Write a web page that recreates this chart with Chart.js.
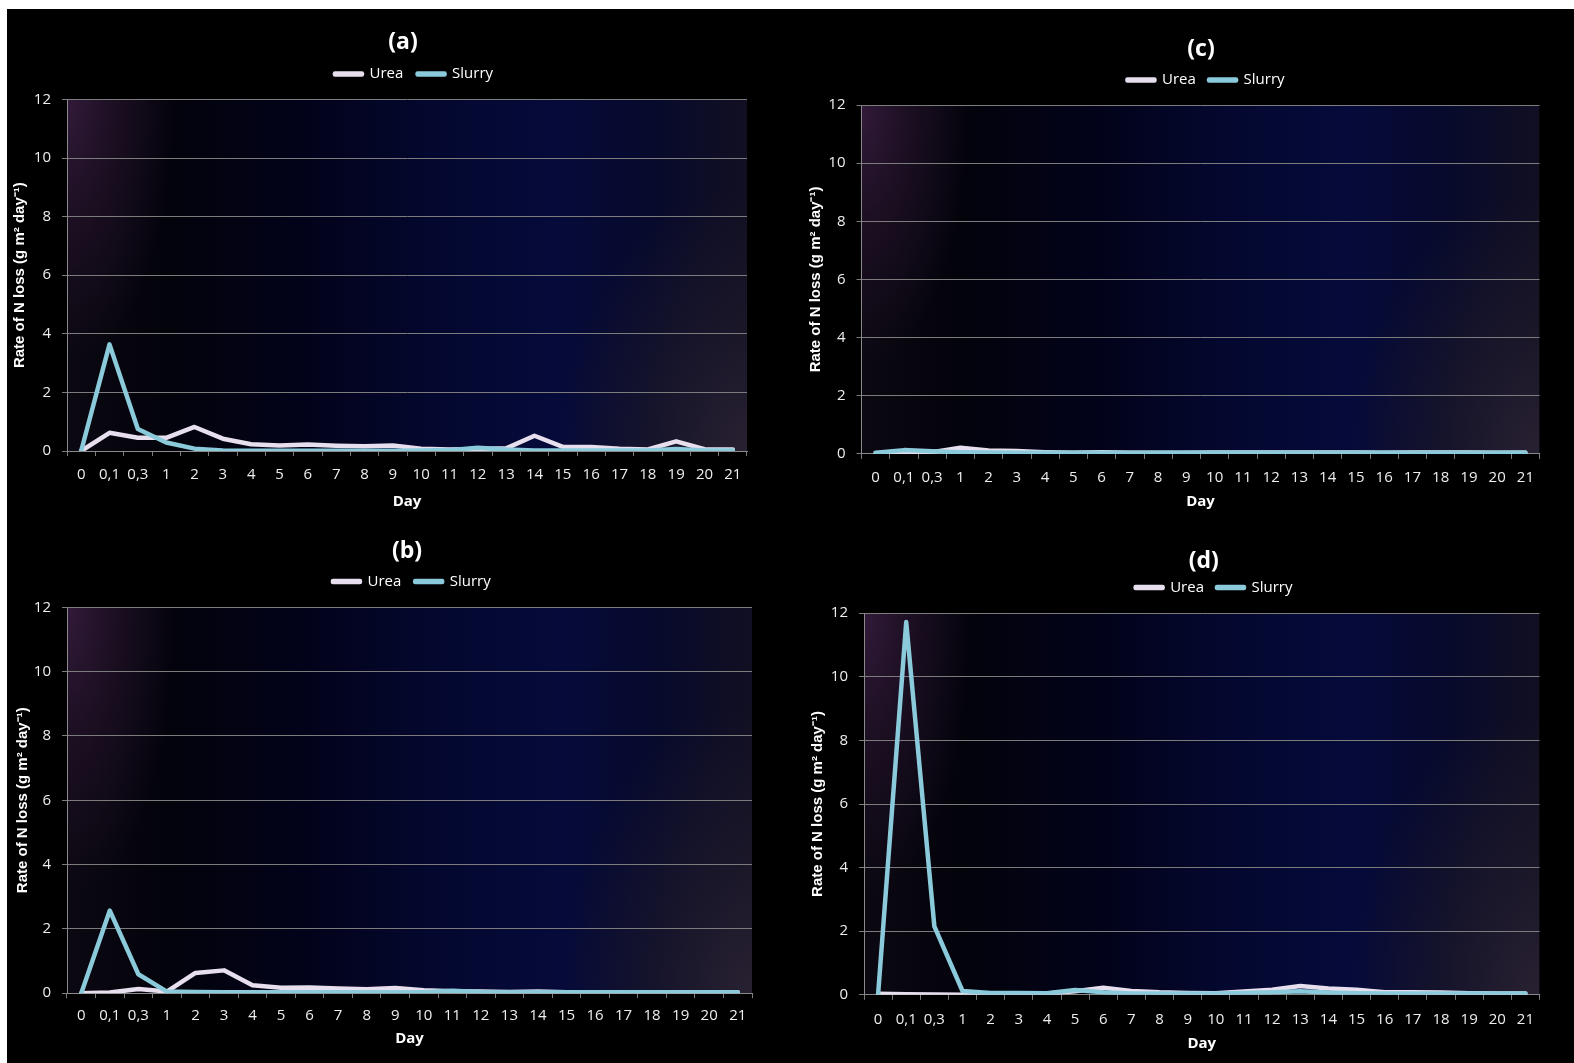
<!DOCTYPE html>
<html><head><meta charset="utf-8">
<script src="https://cdn.jsdelivr.net/npm/chart.js@4.4.1/dist/chart.umd.min.js"></script>
<style>
html,body{margin:0;padding:0;background:#fff;}
body{width:1574px;height:1063px;position:relative;overflow:hidden;}
#bg{position:absolute;left:7px;top:9px;right:0;bottom:0;background:#000;}
.panel{position:absolute;}
.panel canvas{display:block;}
</style></head><body>
<div id="bg"></div>
<div class="panel" style="left:5px;top:9px;width:785px;height:511px"><canvas id="ca"></canvas></div>
<div class="panel" style="left:5px;top:520px;width:785px;height:543px"><canvas id="cb"></canvas></div>
<div class="panel" style="left:790px;top:9px;width:784px;height:511px"><canvas id="cc"></canvas></div>
<div class="panel" style="left:790px;top:520px;width:784px;height:543px"><canvas id="cd"></canvas></div>
<script>
// ---- data ----
const categories = ['0','0,1','0,3','1','2','3','4','5','6','7','8','9','10','11','12','13','14','15','16','17','18','19','20','21'];
const yTicks = [0, 2, 4, 6, 8, 10, 12];

const ureaA   = [0, 0.62, 0.45, 0.45, 0.82, 0.42, 0.23, 0.19, 0.22, 0.18, 0.16, 0.19, 0.08, 0.05, 0.07, 0.09, 0.52, 0.14, 0.14, 0.08, 0.05, 0.33, 0.06, 0.05];
const slurryA = [0, 3.64, 0.75, 0.29, 0.08, 0.02, 0.01, 0.01, 0.01, 0.01, 0.01, 0.01, 0.02, 0.03, 0.11, 0.05, 0.02, 0.02, 0.02, 0.02, 0.02, 0.07, 0.02, 0.02];

const ureaB   = [0, 0.02, 0.13, 0.05, 0.63, 0.71, 0.25, 0.17, 0.18, 0.15, 0.12, 0.16, 0.09, 0.06, 0.05, 0.04, 0.05, 0.03, 0.03, 0.03, 0.03, 0.03, 0.03, 0.03];
const slurryB = [0, 2.57, 0.59, 0.05, 0.04, 0.03, 0.03, 0.03, 0.03, 0.03, 0.03, 0.03, 0.03, 0.08, 0.04, 0.03, 0.03, 0.03, 0.03, 0.03, 0.03, 0.03, 0.03, 0.03];

const ureaC   = [0.02, 0.02, 0.06, 0.21, 0.12, 0.10, 0.06, 0.04, 0.06, 0.04, 0.04, 0.04, 0.05, 0.05, 0.05, 0.05, 0.05, 0.05, 0.04, 0.05, 0.05, 0.05, 0.04, 0.04];
const slurryC = [0.04, 0.13, 0.09, 0.06, 0.05, 0.04, 0.04, 0.04, 0.04, 0.04, 0.04, 0.04, 0.04, 0.04, 0.04, 0.04, 0.04, 0.04, 0.04, 0.04, 0.04, 0.04, 0.04, 0.05];

const ureaD   = [0.03, 0.02, 0.01, 0.00, 0.03, 0.05, 0.04, 0.11, 0.22, 0.12, 0.08, 0.06, 0.05, 0.10, 0.16, 0.28, 0.20, 0.16, 0.08, 0.08, 0.07, 0.05, 0.04, 0.04];
const slurryD = [0, 11.72, 2.15, 0.12, 0.06, 0.06, 0.05, 0.15, 0.08, 0.04, 0.04, 0.04, 0.04, 0.06, 0.08, 0.11, 0.07, 0.05, 0.04, 0.04, 0.04, 0.04, 0.04, 0.04];

// ---- style ----
const UREA_COLOR = '#E7DFEE';
const SLURRY_COLOR = '#8BCADA';
const FONT = "'Open Sans', 'Liberation Sans', sans-serif";
const AXIS_TITLE_FONT = "'Liberation Sans', Arial, sans-serif";
const GRID = '#7c7c7c';

const bgPlugin = {
  id: 'plotBg',
  beforeDraw(chart) {
    const {ctx, chartArea: a} = chart;
    const w = a.right - a.left, h = a.bottom - a.top;
    ctx.save();
    ctx.beginPath(); ctx.rect(a.left, a.top, w, h); ctx.clip();
    const g = ctx.createLinearGradient(a.left, 0, a.right, 0);
    g.addColorStop(0, '#0b0811');
    g.addColorStop(0.15, '#03030c');
    g.addColorStop(0.35, '#02031a');
    g.addColorStop(0.55, '#040830');
    g.addColorStop(0.72, '#050a3a');
    g.addColorStop(0.86, '#070a2c');
    g.addColorStop(1, '#110f22');
    ctx.fillStyle = g; ctx.fillRect(a.left, a.top, w, h);
    ctx.save();
    ctx.translate(a.left, a.top);
    ctx.scale(1, (0.75 * h) / (0.16 * w));
    let r = ctx.createRadialGradient(0, 0, 0, 0, 0, 0.16 * w);
    r.addColorStop(0, 'rgba(50,26,58,1)');
    r.addColorStop(0.5, 'rgba(40,20,46,0.55)');
    r.addColorStop(1, 'rgba(40,20,46,0)');
    ctx.fillStyle = r; ctx.fillRect(0, 0, 0.16 * w, 0.16 * w);
    ctx.restore();
    ctx.save();
    ctx.translate(a.right, a.bottom);
    ctx.scale(1, (0.75 * h) / (0.28 * w));
    r = ctx.createRadialGradient(0, 0, 0, 0, 0, 0.28 * w);
    r.addColorStop(0, 'rgba(40,33,50,1)');
    r.addColorStop(0.5, 'rgba(32,27,44,0.6)');
    r.addColorStop(1, 'rgba(32,27,44,0)');
    ctx.fillStyle = r; ctx.fillRect(-0.28 * w, -0.28 * w, 0.28 * w, 0.28 * w);
    ctx.restore();
    ctx.restore();
  }
};

// shift title / legend horizontally relative to the plot area
const boxShiftPlugin = {
  id: 'boxShift',
  afterLayout(chart, args, opts) {
    const a = chart.chartArea;
    const t = chart.titleBlock, l = chart.legend;
    if (t) { const w = t.right - t.left; const c = (a.left + a.right) / 2 + (opts.titleDx || 0); t.left = c - w / 2; t.right = c + w / 2; }
    if (l) { const w = l.right - l.left; const c = (a.left + a.right) / 2 + (opts.legendDx || 0); l.left = c - w / 2; l.right = c + w / 2; }
  }
};

const panels = [
  {id: 'ca', title: '(a)', urea: ureaA, slurry: slurryA,
   L: {titlePt: 23.8, titlePb: 1, legendPad: 14.3, gap: 7.9, padRight: 43, yWidth: 62, xHeight: 69, xTickPad: 9.8, dayPb: 9, yTitlePt: 6.0, titleDx: -4, legendDx: 7}},
  {id: 'cb', title: '(b)', urea: ureaB, slurry: slurryB,
   L: {titlePt: 21.8, titlePb: 0, legendPad: 13.9, gap: 8.2, padRight: 38, yWidth: 62, xHeight: 69.8, xTickPad: 8.7, dayPb: 14.8, yTitlePt: 8.7, titleDx: -2.5, legendDx: 2.3}},
  {id: 'cc', title: '(c)', urea: ureaC, slurry: slurryC,
   L: {titlePt: 30.8, titlePb: 1, legendPad: 13.3, gap: 7.5, padRight: 34.5, yWidth: 71.5, xHeight: 66.1, xTickPad: 10.3, dayPb: 9, yTitlePt: 16.6, titleDx: 0.5, legendDx: 5.5}},
  {id: 'cd', title: '(d)', urea: ureaD, slurry: slurryD,
   L: {titlePt: 32.3, titlePb: -3.7, legendPad: 13, gap: 8.2, padRight: 34.5, yWidth: 74, xHeight: 68.2, xTickPad: 10.8, dayPb: 10.4, yTitlePt: 18.5, titleDx: 2, legendDx: 12.3}}
];

function ds(label, data, color, order) {
  return {label, data, borderColor: color, backgroundColor: color, borderWidth: 4.5,
    pointRadius: 0, pointHoverRadius: 0, tension: 0, order,
    borderJoinStyle: 'round', borderCapStyle: 'round'};
}

function makeChart(p) {
  const L = p.L;
  return new Chart(document.getElementById(p.id), {
    type: 'line',
    data: {labels: categories, datasets: [
      ds('Urea', p.urea, UREA_COLOR, 1),
      ds('Slurry', p.slurry, SLURRY_COLOR, 0)
    ]},
    options: {
      responsive: true, maintainAspectRatio: false, animation: false, events: [],
      layout: {padding: {left: 0, right: L.padRight, top: 0, bottom: 0}},
      plugins: {
        boxShift: {titleDx: L.titleDx, legendDx: L.legendDx},
        title: {display: true, text: p.title, color: '#ffffff', fullSize: false,
          font: {family: FONT, size: 23, weight: 'bold', lineHeight: 0.8},
          padding: {top: L.titlePt, bottom: L.titlePb}},
        legend: {display: true, fullSize: false,
          labels: {color: '#ffffff', font: {family: FONT, size: 15}, boxWidth: 27, boxHeight: 1,
            padding: L.legendPad, sort: (a, b) => a.datasetIndex - b.datasetIndex}},
        tooltip: {enabled: false}
      },
      scales: {
        x: {
          type: 'category', offset: true,
          grid: {offset: true, drawOnChartArea: false, drawTicks: true, tickLength: 5, color: GRID},
          border: {color: '#8a8a8a', width: 1},
          ticks: {color: '#eeeeee', font: {family: FONT, size: 15}, padding: L.xTickPad,
            maxRotation: 0, minRotation: 0, autoSkip: false},
          title: {display: true, text: 'Day', color: '#ffffff',
            font: {family: FONT, size: 15, weight: 'bold', lineHeight: 1.2},
            padding: {top: 0, bottom: L.dayPb}},
          afterFit(s) { s.height = L.xHeight; }
        },
        // invisible spacer between legend and plot area
        xTop: {
          type: 'category', position: 'top', display: true,
          grid: {display: false, drawTicks: false}, border: {display: false},
          ticks: {display: false},
          afterFit(s) { s.height = L.gap; }
        },
        y: {
          min: 0, max: 12,
          afterBuildTicks(s) { s.ticks = yTicks.map(v => ({value: v})); },
          grid: {color: GRID, lineWidth: 1, drawTicks: true, tickLength: 5},
          border: {color: '#8a8a8a', width: 1},
          ticks: {color: '#eeeeee', font: {family: FONT, size: 15}, padding: 11},
          title: {display: true, text: 'Rate of N loss (g m\u00B2 day\u207B\u00B9)', color: '#ffffff',
            font: {family: AXIS_TITLE_FONT, size: 15, weight: 'bold', lineHeight: 1.2},
            padding: {top: L.yTitlePt, bottom: 0}},
          afterFit(s) { s.width = L.yWidth; }
        }
      }
    },
    plugins: [bgPlugin, boxShiftPlugin]
  });
}

panels.forEach(makeChart);
</script>
</body></html>
